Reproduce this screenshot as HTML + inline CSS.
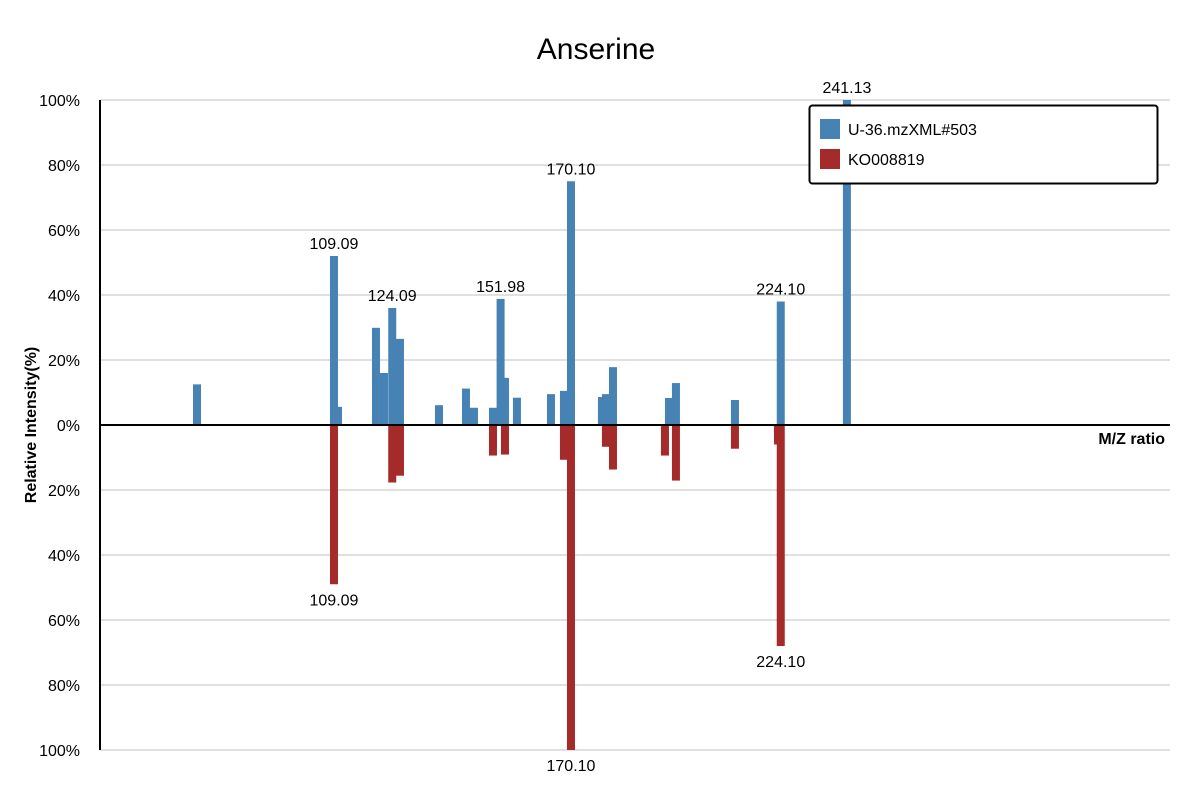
<!DOCTYPE html>
<html><head><meta charset="utf-8"><style>
body{margin:0;background:#fff;font-family:"Liberation Sans",sans-serif}
</style></head><body>
<svg id="chart" width="1200" height="800" xmlns="http://www.w3.org/2000/svg" font-family="Liberation Sans, sans-serif">
<text x="596" y="59" font-size="30" text-anchor="middle">Anserine</text>
<g id="grid"></g><g id="bars"></g><g id="axes"></g><g id="labels"></g>
<text transform="translate(36,425) rotate(-90)" font-size="16" font-weight="bold" text-anchor="middle">Relative Intensity(%)</text>
<text x="1165" y="444" font-size="16" font-weight="bold" text-anchor="end">M/Z ratio</text>
<g>
<rect x="809.5" y="105.5" width="348" height="78" rx="3" fill="#fff" stroke="#000" stroke-width="2"/>
<rect x="820" y="119" width="20" height="20" fill="#4682b4"/>
<text x="848" y="135" font-size="16">U-36.mzXML#503</text>
<rect x="820" y="149" width="20" height="20" fill="#a52a2a"/>
<text x="848" y="165" font-size="16">KO008819</text>
</g>
</svg>
<script>
const topMz=[73.83,109.09,110.12,119.90,121.96,124.09,126.08,136.12,143.07,145.13,150.02,151.98,153.11,156.19,164.95,168.29,170.10,178.07,179.10,180.91,195.32,197.12,212.31,224.10,241.13];
const topVal=[12.5,52,5.6,29.9,16,36,26.5,6.1,11.2,5.3,5.3,38.8,14.5,8.4,9.5,10.5,75,8.6,9.5,17.8,8.3,12.9,7.7,38,100];
const botMz=[109.09,124.09,126.08,150.02,153.11,168.29,170.10,179.10,180.91,194.29,197.12,212.31,223.38,224.10];
const botVal=[49,17.7,15.6,9.4,9.1,10.7,100,6.7,13.7,9.4,17.1,7.3,6,68];
const topLabels=["109.09","124.09","151.98","170.10","224.10","241.13"];
const botLabels=["109.09","170.10","224.10"];
const yTicks=[100,80,60,40,20,0,-20,-40,-60,-80,-100];
const xMin=48.86,xMax=324.3;
const NS="http://www.w3.org/2000/svg";
const X=m=>100+(m-xMin)/(xMax-xMin)*1070;
const Y=v=>425-v*3.25;
function mk(t,a,p){const e=document.createElementNS(NS,t);for(const k in a)e.setAttribute(k,a[k]);document.getElementById(p).appendChild(e);return e;}
yTicks.forEach(v=>{
 if(v!==0){const g=mk('line',{x1:100,x2:1170,y1:Y(v),y2:Y(v),stroke:'#e0e0e0','stroke-width':2},'grid');
 
 }
 const t=mk('text',{x:80,y:Y(v)+6,'font-size':16,'text-anchor':'end'},'axes');
 t.textContent=Math.abs(v)+'%';
 
 
});
const ax=mk('line',{x1:100,x2:100,y1:100,y2:750,stroke:'#000','stroke-width':2},'axes');


const zl=mk('line',{x1:100,x2:1170,y1:425,y2:425,stroke:'#000','stroke-width':2},'axes');


function draw(mz,val,color,dir,name){
 const idx=mz.map((m,i)=>i).sort((a,b)=>val[a]-val[b]);
 idx.forEach(i=>{const h=val[i]*3.25;
  const r=mk('rect',{x:X(mz[i])-4,width:8,y:dir>0?425-h:425,height:h,fill:color},'bars');
  
  });
}
draw(topMz,topVal,'#4682b4',1,'query-peak-bar');
draw(botMz,botVal,'#a52a2a',-1,'reference-peak-bar');
topLabels.forEach(l=>{const i=topMz.findIndex(m=>m.toFixed(2)===l);
 const t=mk('text',{x:X(topMz[i]),y:Y(topVal[i])-7,'font-size':16,'text-anchor':'middle'},'labels');
 t.textContent=l;
 
 });
botLabels.forEach(l=>{const i=botMz.findIndex(m=>m.toFixed(2)===l);
 const t=mk('text',{x:X(botMz[i]),y:Y(-botVal[i])+21,'font-size':16,'text-anchor':'middle'},'labels');
 t.textContent=l;
 
 });
</script>
</body></html>
